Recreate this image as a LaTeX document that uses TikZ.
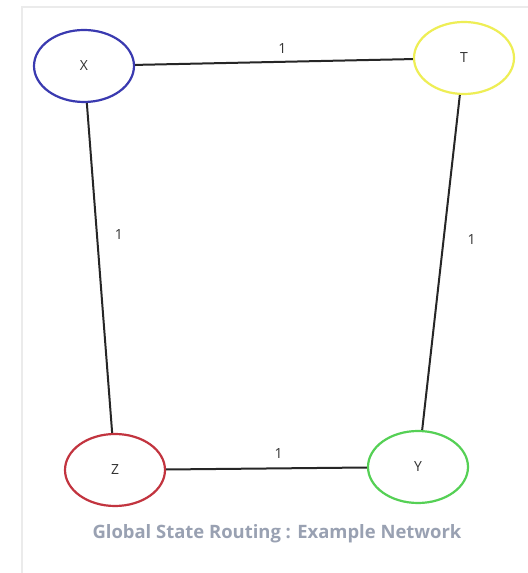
\documentclass[tikz,border=0pt]{standalone}
\usepackage{fontspec}
\setmainfont{Open Sans}
\usetikzlibrary{shapes.geometric}
\definecolor{xblue}{HTML}{3A3AB0}
\definecolor{tyellow}{HTML}{EEEE55}
\definecolor{zred}{HTML}{C2343F}
\definecolor{ygreen}{HTML}{55D055}
\definecolor{capgray}{HTML}{99A1B2}
\definecolor{framegray}{HTML}{EBEBEB}
\tikzset{
  router/.style={ellipse, draw, line width=2.2bp, minimum width=100bp, minimum height=72bp, inner sep=0pt, font=\fontsize{14}{16}\selectfont, text=black!80},
  link/.style={line width=2bp, black!85},
  lbl/.style={font=\fontsize{14}{16}\selectfont, text=black!80, inner sep=1bp}
}
\begin{document}
\begin{tikzpicture}[x=1bp,y=1bp]
\useasboundingbox (0,0) rectangle (528,573);
\fill[white] (0,0) rectangle (528,573);
\draw[framegray, line width=1.2bp] (22,0) -- (22,566) -- (528,566);
\node[router, draw=xblue] (X) at (84,507) {X};
\node[router, draw=tyellow] (T) at (464,515) {T};
\node[router, draw=zred] (Z) at (115,103) {Z};
\node[router, draw=ygreen] (Y) at (418,106) {Y};
\draw[link] (X) -- node[lbl, pos=0.53, above=6bp] (l1) {1} (T);
\draw[link] (X) -- node[lbl, pos=0.40, right=16bp] (l2) {1} (Z);
\draw[link] (T) -- node[lbl, pos=0.43, right=22bp] (l3) {1} (Y);
\draw[link] (Z) -- node[lbl, pos=0.56, above=8bp] (l4) {1} (Y);
\node[font=\fontsize{18.5}{22}\selectfont\bfseries, text=capgray] (cap) at (277,39) {Global State Routing : Example Network};
\end{tikzpicture}
\end{document}
